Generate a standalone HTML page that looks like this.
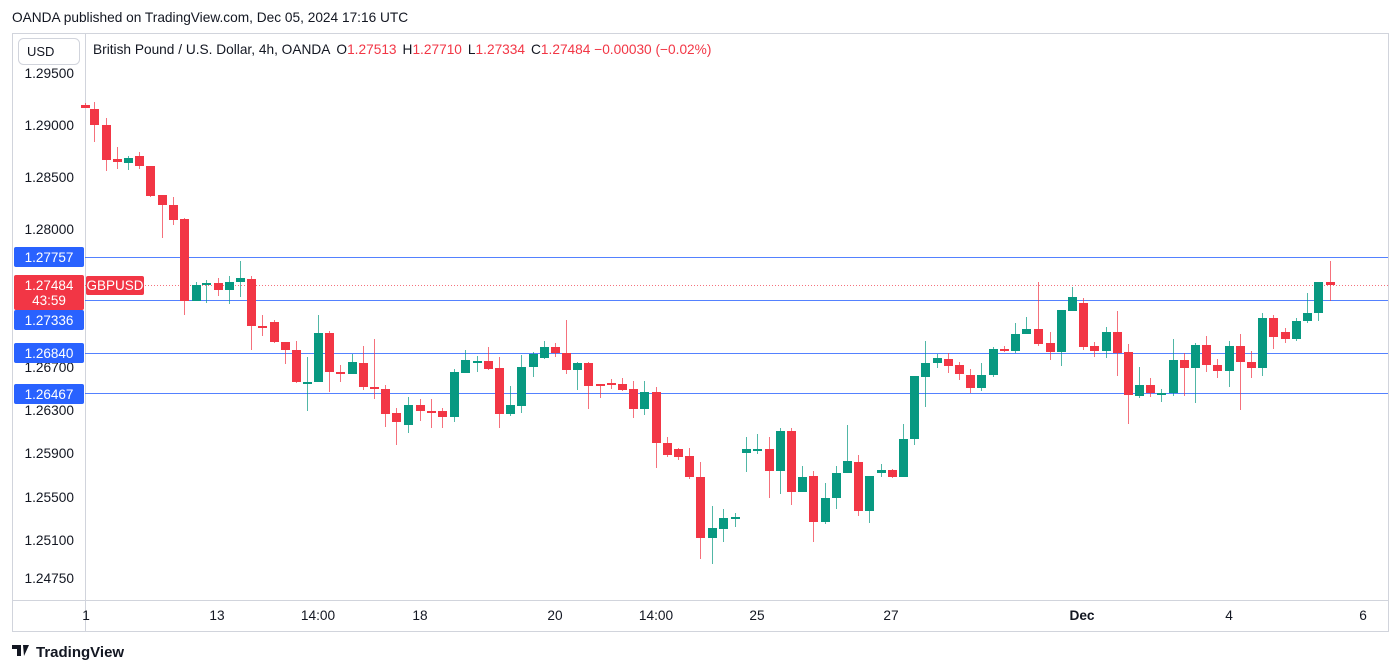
<!DOCTYPE html>
<html><head><meta charset="utf-8"><style>
body{margin:0;width:1400px;height:672px;background:#fff;font-family:"Liberation Sans",sans-serif;overflow:hidden;position:relative}
</style></head><body>
<svg width="1400" height="672" xmlns="http://www.w3.org/2000/svg" style="position:absolute;left:0;top:0;font-family:'Liberation Sans',sans-serif">
<text x="12" y="22" font-size="13.7" fill="#131722">OANDA published on TradingView.com, Dec 05, 2024 17:16 UTC</text>
<rect x="12.5" y="33.5" width="1376" height="598" fill="none" stroke="#d1d4dc"/>
<line x1="85.5" y1="34" x2="85.5" y2="631" stroke="#d1d4dc"/>
<line x1="12" y1="600.5" x2="1388" y2="600.5" stroke="#d1d4dc"/>
<rect x="18.5" y="38.5" width="61" height="26" rx="5" fill="#fff" stroke="#d1d4dc"/>
<text x="27" y="56" font-size="13" fill="#131722">USD</text>
<text x="93" y="54" font-size="13.7" fill="#131722">British Pound / U.S. Dollar, 4h, OANDA <tspan dx="3">O</tspan><tspan fill="#f23645">1.27513</tspan><tspan dx="6">H</tspan><tspan fill="#f23645">1.27710</tspan><tspan dx="6">L</tspan><tspan fill="#f23645">1.27334</tspan><tspan dx="6">C</tspan><tspan fill="#f23645">1.27484 −0.00030 (−0.02%)</tspan></text>
<g font-size="13.7" fill="#131722" text-anchor="end">
<text x="74" y="78">1.29500</text><text x="74" y="130">1.29000</text><text x="74" y="182">1.28500</text><text x="74" y="234">1.28000</text>
<text x="74" y="372">1.26700</text><text x="74" y="415">1.26300</text><text x="74" y="458">1.25900</text><text x="74" y="502">1.25500</text><text x="74" y="545">1.25100</text><text x="74" y="583">1.24750</text>
</g>
<g font-size="13.7" fill="#131722" text-anchor="middle">
<text x="86" y="620">1</text><text x="217" y="620">13</text><text x="318" y="620">14:00</text><text x="420" y="620">18</text><text x="555" y="620">20</text><text x="656" y="620">14:00</text><text x="757" y="620">25</text><text x="891" y="620">27</text><text x="1082" y="620" font-weight="bold">Dec</text><text x="1229" y="620">4</text><text x="1363" y="620">6</text>
</g>
<g stroke="#2962ff" stroke-width="1" opacity="0.8">
<line x1="85" y1="257.5" x2="1388" y2="257.5"/><line x1="85" y1="300.5" x2="1388" y2="300.5"/><line x1="85" y1="353.5" x2="1388" y2="353.5"/><line x1="85" y1="393.5" x2="1388" y2="393.5"/>
</g>
<line x1="85" y1="285.5" x2="1388" y2="285.5" stroke="#f23645" stroke-dasharray="1,2" opacity="0.7"/>
<g id="c"></g>
<g font-size="13.5" fill="#fff" text-anchor="middle">
<rect x="14" y="247" width="70" height="20" rx="2" fill="#2962ff"/><text x="49" y="262">1.27757</text>
<rect x="14" y="310" width="70" height="20" rx="2" fill="#2962ff"/><text x="49" y="325">1.27336</text>
<rect x="14" y="343" width="70" height="20" rx="2" fill="#2962ff"/><text x="49" y="358">1.26840</text>
<rect x="14" y="384" width="70" height="20" rx="2" fill="#2962ff"/><text x="49" y="399">1.26467</text>
<rect x="14" y="275" width="70" height="35" rx="2" fill="#f23645"/><text x="49" y="290">1.27484</text><text x="49" y="305">43:59</text>
<rect x="86" y="276" width="58" height="19" rx="2" fill="#f23645"/><text x="115" y="290">GBPUSD</text>
</g>
<g transform="translate(12,643)"><path d="M0 2h9v11H5V6H0z M11 2h6l-5 11z" fill="#131722"/></g>
<text x="36" y="657" font-size="15" fill="#131722" font-weight="bold">TradingView</text>
</svg>
<script>
var d=[[85,105,108,103,108,'r'],[94,109,125,102,142,'r'],[106,125,160,118,171,'r'],[117,159,162,147,169,'r'],[128,158,163,156,170,'g'],[139,156,166,152,169,'r'],[150,166,196,166,197,'r'],[162,195,205,195,238,'r'],[173,205,220,197,225,'r'],[184,219,301,218,315,'r'],[196,285,301,282,301,'g'],[206,283,284,280,303,'g'],[218,283,290,278,296,'r'],[229,282,290,276,304,'g'],[240,278,282,261,297,'g'],[251,279,326,276,350,'r'],[262,326,328,315,336,'r'],[274,322,342,320,343,'r'],[285,342,350,342,364,'r'],[296,350,382,341,383,'r'],[307,382,383,357,411,'g'],[318,333,382,315,382,'g'],[329,333,372,331,392,'r'],[340,372,374,365,382,'r'],[352,362,374,354,374,'g'],[363,363,387,346,390,'r'],[374,387,389,339,399,'r'],[385,389,414,385,427,'r'],[396,413,422,408,445,'r'],[408,405,425,397,433,'g'],[420,405,411,399,421,'r'],[431,411,412,399,428,'r'],[442,411,417,408,428,'r'],[454,372,417,369,422,'g'],[465,360,373,350,373,'g'],[477,361,362,356,372,'g'],[488,361,369,347,370,'r'],[499,368,414,357,428,'r'],[510,405,414,386,416,'g'],[521,367,406,355,413,'g'],[533,354,367,352,377,'g'],[544,347,358,341,359,'g'],[555,347,353,343,357,'r'],[566,353,370,320,374,'r'],[577,363,370,362,390,'g'],[588,363,386,362,409,'r'],[600,384,385,384,398,'r'],[611,383,384,379,389,'r'],[622,384,390,378,391,'r'],[633,389,409,381,418,'r'],[644,392,409,381,415,'g'],[656,392,443,387,468,'r'],[667,443,455,437,457,'r'],[678,449,457,448,460,'r'],[689,456,477,448,479,'r'],[700,477,538,462,559,'r'],[712,528,538,506,564,'g'],[723,518,529,509,542,'g'],[735,517,518,513,527,'g'],[746,449,453,437,472,'g'],[757,449,450,434,454,'g'],[769,449,471,437,498,'r'],[780,431,471,428,494,'g'],[791,431,492,428,505,'r'],[802,477,492,466,492,'g'],[813,476,522,471,542,'r'],[825,498,522,483,524,'g'],[836,473,498,466,509,'g'],[847,461,473,425,473,'g'],[858,462,511,455,516,'r'],[869,476,511,476,523,'g'],[881,470,473,464,477,'g'],[892,470,477,469,478,'r'],[903,439,477,424,477,'g'],[914,376,439,376,445,'g'],[925,363,377,341,407,'g'],[937,358,363,354,368,'g'],[948,359,366,353,373,'r'],[959,365,374,362,380,'r'],[970,375,388,369,393,'r'],[981,375,388,363,391,'g'],[993,349,375,347,377,'g'],[1004,349,350,346,352,'r'],[1015,334,351,323,353,'g'],[1026,329,334,317,334,'g'],[1038,329,344,282,346,'r'],[1050,343,352,332,360,'r'],[1061,310,352,310,366,'g'],[1072,297,311,287,311,'g'],[1083,303,347,298,350,'r'],[1094,346,351,342,357,'r'],[1106,332,351,327,358,'g'],[1117,332,353,311,376,'r'],[1128,352,395,344,424,'r'],[1139,385,396,367,398,'g'],[1150,385,393,378,397,'r'],[1161,393,394,389,402,'g'],[1173,360,393,339,396,'g'],[1184,360,368,353,396,'r'],[1195,345,368,343,403,'g'],[1206,345,365,336,372,'r'],[1217,365,371,359,378,'r'],[1229,346,371,341,387,'g'],[1240,346,362,334,410,'r'],[1251,362,368,351,378,'r'],[1262,318,368,313,376,'g'],[1273,318,337,315,349,'r'],[1285,332,339,328,343,'r'],[1296,321,339,318,341,'g'],[1307,313,321,293,323,'g'],[1318,282,313,282,321,'g'],[1330,282,285,261,301,'r']];
var s='';d.forEach(function(c){var col=c[5]=='g'?'#089981':'#f23645';var h=Math.max(2,c[2]-c[1]);
s+='<line x1="'+(c[0]+.5)+'" y1="'+c[3]+'" x2="'+(c[0]+.5)+'" y2="'+c[4]+'" stroke="'+col+'" stroke-width="1" opacity="0.7"/>';
s+='<rect x="'+(c[0]-4)+'" y="'+c[1]+'" width="9" height="'+h+'" fill="'+col+'"/>';});
document.getElementById('c').innerHTML=s;
</script>
</body></html>
